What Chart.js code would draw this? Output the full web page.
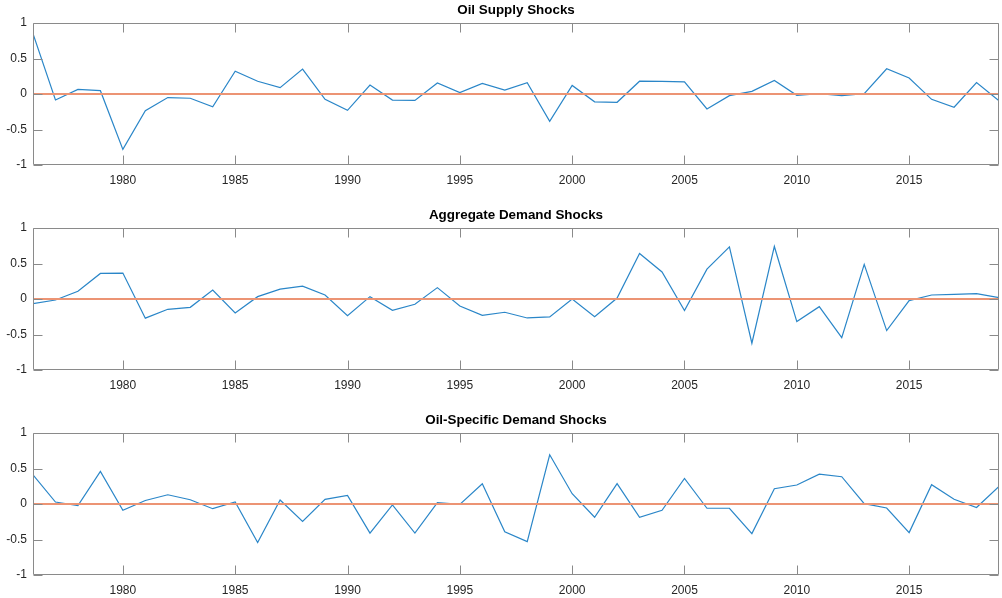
<!DOCTYPE html>
<html>
<head>
<meta charset="utf-8">
<script src="https://cdn.jsdelivr.net/npm/chart.js@4/dist/chart.umd.min.js"></script>
<style>
  html, body { margin: 0; padding: 0; background: #ffffff; overflow: hidden; }
  body { width: 1002px; height: 598px; position: relative; }
  .panel { position: absolute; left: 0; width: 1002px; height: 205px; }
</style>
</head>
<body>
<div class="panel" style="top:0px"><canvas id="c1" width="1002" height="205"></canvas></div>
<div class="panel" style="top:205px"><canvas id="c2" width="1002" height="205"></canvas></div>
<div class="panel" style="top:410px"><canvas id="c3" width="1002" height="205"></canvas></div>
<script>
// Annual structural shocks, 1976-2019
const years = [1976,1977,1978,1979,1980,1981,1982,1983,1984,1985,
               1986,1987,1988,1989,1990,1991,1992,1993,1994,1995,
               1996,1997,1998,1999,2000,2001,2002,2003,2004,2005,
               2006,2007,2008,2009,2010,2011,2012,2013,2014,2015,
               2016,2017,2018,2019];

const oilSupply = [0.85,-0.085,0.065,0.047,-0.78,-0.235,-0.05,-0.06,-0.18,0.32,
                   0.18,0.09,0.35,-0.075,-0.23,0.127,-0.085,-0.09,0.155,0.02,
                   0.15,0.056,0.16,-0.385,0.12,-0.11,-0.117,0.18,0.178,0.17,
                   -0.21,-0.023,0.037,0.19,-0.019,0.005,-0.023,0.005,0.356,0.225,
                   -0.075,-0.187,0.16,-0.094];

const aggregateDemand = [-0.066,-0.014,0.11,0.36,0.365,-0.27,-0.145,-0.117,0.126,-0.197,
                         0.033,0.14,0.18,0.056,-0.234,0.033,-0.16,-0.075,0.16,-0.098,
                         -0.23,-0.187,-0.267,-0.253,0,-0.248,0.014,0.64,0.38,-0.164,
                         0.42,0.735,-0.623,0.74,-0.318,-0.108,-0.543,0.487,-0.445,-0.023,
                         0.056,0.066,0.075,0.019];

const oilSpecificDemand = [0.41,0.028,-0.023,0.46,-0.089,0.05,0.13,0.06,-0.066,0.028,
                           -0.543,0.056,-0.244,0.066,0.12,-0.41,-0.014,-0.41,0.019,-0.005,
                           0.286,-0.39,-0.53,0.693,0.145,-0.187,0.286,-0.187,-0.089,0.36,
                           -0.06,-0.06,-0.417,0.215,0.267,0.42,0.384,0.005,-0.056,-0.403,
                           0.272,0.066,-0.05,0.248];

const panelTitles = ['Oil Supply Shocks', 'Aggregate Demand Shocks', 'Oil-Specific Demand Shocks'];
const xTicks = [1980, 1985, 1990, 1995, 2000, 2005, 2010, 2015];
const yTicks = [-1, -0.5, 0, 0.5, 1];
const zeroLevel = [0, 0];
const xRange = [1976, 2019];

const FONT = '"Liberation Sans", Arial, Helvetica, sans-serif';
const AXIS_COLOR = '#8a8a8a';
const TEXT_COLOR = '#262626';

// Box outline, inward ticks on all four sides, and the panel title
const boxPlugin = {
  id: 'matlabBox',
  afterDatasetsDraw(chart) {
    const { ctx, chartArea: a, scales } = chart;
    const L = Math.round(a.left) + 0.5, R = Math.round(a.right) - 0.5;
    const T = Math.round(a.top) + 0.5, B = Math.round(a.bottom) - 0.5;
    const tl = 9;
    ctx.save();
    ctx.strokeStyle = AXIS_COLOR;
    ctx.lineWidth = 1;
    ctx.beginPath();
    ctx.rect(L, T, R - L, B - T);
    scales.x.ticks.forEach(t => {
      const px = Math.round(scales.x.getPixelForValue(t.value)) + 0.5;
      ctx.moveTo(px, B); ctx.lineTo(px, B - tl);
      ctx.moveTo(px, T); ctx.lineTo(px, T + tl);
    });
    scales.y.ticks.forEach(t => {
      const py = Math.round(scales.y.getPixelForValue(t.value)) + 0.5;
      ctx.moveTo(L, py); ctx.lineTo(L + tl, py);
      ctx.moveTo(R, py); ctx.lineTo(R - tl, py);
    });
    ctx.stroke();
    const title = chart.options.plugins.matlabBox.title;
    ctx.fillStyle = '#000000';
    ctx.font = 'bold 13.4px ' + FONT;
    ctx.textAlign = 'center';
    ctx.textBaseline = 'alphabetic';
    ctx.fillText(title, (a.left + a.right) / 2, a.top - 9);
    ctx.restore();
  }
};

function makePanel(id, title, values) {
  const series = years.map((yr, i) => ({ x: yr, y: values[i] }));
  const zero = xRange.map((yr, i) => ({ x: yr, y: zeroLevel[i] }));
  new Chart(document.getElementById(id), {
    type: 'line',
    data: {
      datasets: [
        { data: zero, borderColor: '#ec9474', borderWidth: 2, pointRadius: 0, order: 0, tension: 0 },
        { data: series, borderColor: '#2a86c8', borderWidth: 1.2, pointRadius: 0, order: 1, tension: 0 }
      ]
    },
    options: {
      responsive: false,
      animation: false,
      events: [],
      layout: { padding: { top: 23, right: 3, left: 0, bottom: 0 } },
      plugins: {
        legend: { display: false },
        tooltip: { enabled: false },
        matlabBox: { title: title }
      },
      scales: {
        x: {
          type: 'linear',
          min: xRange[0], max: xRange[1],
          grid: { display: false, drawTicks: false },
          border: { display: false },
          afterBuildTicks: s => { s.ticks = xTicks.map(v => ({ value: v })); },
          afterFit: s => { s.height = 40; },
          ticks: {
            color: TEXT_COLOR, padding: 8, maxRotation: 0, autoSkip: false,
            font: { family: FONT, size: 12 },
            callback: v => String(v)
          }
        },
        y: {
          min: -1, max: 1,
          grid: { display: false, drawTicks: false },
          border: { display: false },
          afterBuildTicks: s => { s.ticks = yTicks.map(v => ({ value: v })); },
          afterFit: s => { s.width = 33; },
          ticks: {
            color: TEXT_COLOR, padding: 6,
            font: { family: FONT, size: 12 },
            callback: v => String(v)
          }
        }
      }
    },
    plugins: [boxPlugin]
  });
}

makePanel('c1', panelTitles[0], oilSupply);
makePanel('c2', panelTitles[1], aggregateDemand);
makePanel('c3', panelTitles[2], oilSpecificDemand);
</script>
</body>
</html>
